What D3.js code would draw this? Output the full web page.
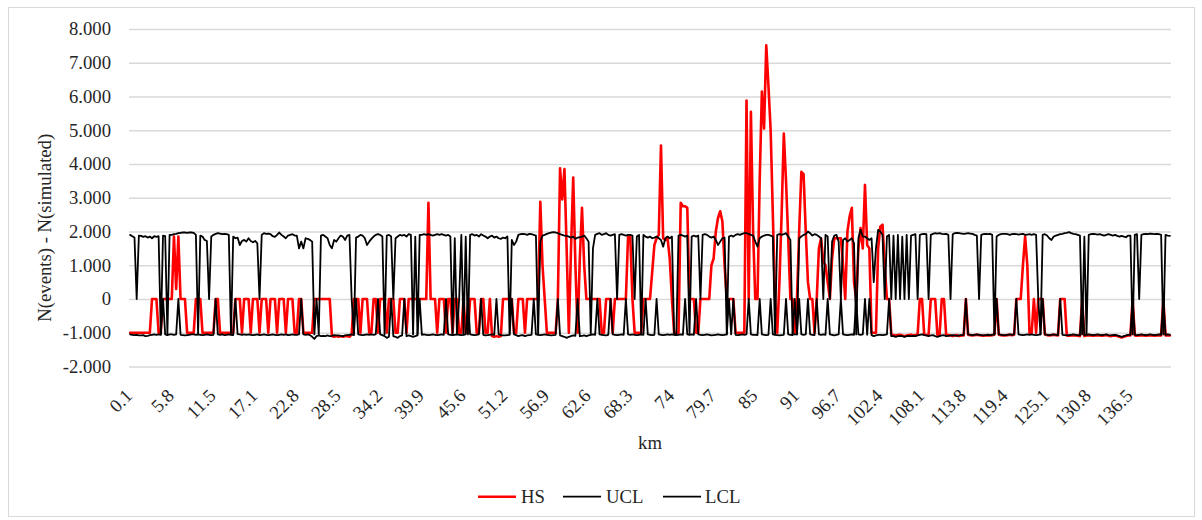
<!DOCTYPE html>
<html>
<head>
<meta charset="utf-8">
<script src="https://cdn.jsdelivr.net/npm/d3@7"></script>
<style>
  html, body { margin: 0; padding: 0; background: #fff; }
  svg { display: block; }
</style>
</head>
<body>
<svg id="chart" width="1202" height="520"></svg>
<script>
// ---------------- DATA ----------------
// x-axis tick labels (km), one shown every 57 categories
const tickLabels = ["0.1","5.8","11.5","17.1","22.8","28.5","34.2","39.9","45.6","51.2","56.9","62.6","68.3","74","79.7","85","91","96.7","102.4","108.1","113.8","119.4","125.1","130.8","136.5"];
const yTicks = [-2, -1, 0, 1, 2, 3, 4, 5, 6, 7, 8];
const yTickLabels = ["-2.000","-1.000","0","1.000","2.000","3.000","4.000","5.000","6.000","7.000","8.000"];
const nCategories = 1425;   // number of km categories on the axis
const sampleStep = 3;       // categories per stored sample
const tickEvery = 57;       // categories between labels

// HS series (sampled every 3 categories)
const hs = [
 -1,-1,-1,-1,-1,-1,-1,-1,-1,-1,0,0,0,-1,-1,0,0,0,0,
 0,1.85,0.3,1.85,0,0,0,-1,-1,-1,-1,0,0,0,-1,-1,-1,-1,-1,
 -1,0,0,-1,-1,-1,-1,-1,-1,-1,0,0,0,-1,0,0,0,-1,0,
 0,0,-1,0,0,0,-1,0,0,0,-1,0,0,0,-1,0,0,0,-1,
 -1,0,0,-1,-1,-1,-1,-1,0,0,0,0,0,0,0,0,-1.1,-1.12,-1.1,
 -1.12,-1.1,-1.12,-1.1,-1.1,-1.12,-1.05,0,0,0,-1,0,0,0,-1,-1,0,0,-1,
 0,0,0,-1,0,0,0,-1,-1,0,0,0,-1,0,0,0,0,0,0,
 0,0,0,2.85,0,0,0,-1,0,0,0,-1,0,0,-1,0,0,-1,-1,
 0,-1,-1,0,0,0,-1,-1,0,0,-1,-1,0,-1.1,-1.12,-1.1,-1.12,-1.1,0,
 0,0,0,0,-1,-1,0,0,0,-1,0,0,0,0,0,0,2.88,1.0,0,
 -1,-1,-1,-1,-1,0,3.87,2.95,3.85,1.5,-1,1.5,3.6,1.0,-1,1.2,2.7,1.0,0,
 0,0,0,0,0,0,-1,-1,0,0,0,-1,0,0,0,0,0,0,1.85,
 1.85,0,-1,-1,-1,-1,0,0,0,0,0.8,1.6,1.8,1.9,4.55,1.8,1.75,1.8,1.2,
 0,-1,-1,-1,2.85,2.75,2.75,2.7,0,0,0,-1,-1,0,0,0,0,0,1.0,
 1.2,2.0,2.4,2.6,2.3,1.0,0,0,0,0,-1,-1,-1,-1,-1,5.88,0,5.55,2.0,
 0,0,3.5,6.15,5.05,7.52,6.3,5.0,2.5,0,-1,0.5,2.5,4.9,3.5,1.8,0,0,-1,
 0,2.0,3.77,3.7,2.0,0.5,0,0,-1,0,1.5,1.8,1.1,1.0,0.5,0,1.2,1.8,1.8,
 1.8,1.8,1.0,0,2.0,2.45,2.7,0.5,0,1.5,2.1,1.5,3.38,1.6,1.5,-1,-1,-1,1.5,
 2.15,2.2,1.0,0,0,-1.05,-1.07,-1.08,-1.07,-1.06,-1.08,-1.1,-1.08,-1.07,-1.06,-1.08,-1.07,-1.06,0,
 0,-1.05,-1.07,-1.06,0,0,0,-1.06,-1.07,0,0,-1.06,-1.07,-1.08,-1.1,-1.08,-1.07,-1.1,-1.08,
 -1.08,0,-1.06,-1.07,-1.08,-1.07,-1.06,-1.07,-1.08,-1.09,-1.08,-1.07,-1.08,-1.07,-1.06,0,-1.06,-1.07,-1.08,
 -1.08,-1.07,-1.06,-1.07,-1.06,0,0,0,1.0,1.85,1.0,-1,-1,0,-1,0,0,0,-1.05,
 -1.07,-1.08,-1.07,-1.06,-1.07,-1.08,0,0,0,-1.08,-1.09,-1.08,-1.07,-1.08,-1.09,-1.1,0,-1.1,-1.08,
 -1.07,-1.08,-1.09,-1.08,-1.07,-1.08,-1.09,-1.08,-1.07,-1.09,-1.1,-1.09,-1.08,-1.1,-1.12,-1.14,-1.12,-1.1,-1.08,
 -1.08,0,-1.08,-1.09,-1.08,-1.07,-1.08,-1.09,-1.08,-1.07,-1.08,-1.09,-1.08,-1.07,-1.08,0,-1.08,-1.07,-1.08
];

// UCL series
const ucl = [
 1.90,1.86,1.82,0,1.88,1.87,1.84,1.86,1.82,1.85,1.80,1.86,1.84,1.86,-1.05,1.88,1.86,-1.05,1.90,
 1.9,1.92,1.93,1.95,1.96,1.97,1.97,1.96,1.97,1.97,1.96,1.9,-1.05,1.88,1.85,1.75,1.72,0,1.85,
 1.9,1.93,1.95,1.94,1.92,1.93,1.92,1.9,-1.05,1.85,1.8,1.82,1.6,1.72,1.75,1.7,1.8,1.72,1.68,
 1.72,1.65,0,1.9,1.95,1.93,1.94,1.92,1.86,1.84,1.9,1.97,1.9,1.85,1.8,1.88,1.9,1.92,1.88,
 1.88,1.5,1.7,1.5,1.8,1.78,1.75,1.7,-1.05,0,-1.05,1.88,1.9,1.85,1.8,1.6,1.5,1.75,1.7,
 1.8,1.88,1.85,1.75,1.88,1.9,0,-1.05,1.82,1.85,1.9,1.88,1.8,1.6,1.7,1.78,1.85,1.9,1.92,
 1.9,1.85,-1.05,1.88,1.9,1.85,0,1.8,1.85,1.9,1.88,1.9,1.85,1.92,1.9,-1.05,1.85,-1.05,1.9,
 1.9,1.92,1.9,1.92,1.9,1.88,1.9,1.92,1.9,1.92,1.9,1.88,1.9,1.85,-1.05,1.8,-1.05,0,1.9,
 -1.05,1.85,-1.05,1.9,1.92,1.88,1.9,1.85,1.92,1.88,1.85,1.8,1.85,1.88,1.82,1.85,1.8,1.78,1.82,
 1.8,1.85,-1.05,1.75,1.6,1.7,1.9,1.92,1.93,1.92,1.9,1.93,1.92,1.9,1.88,-1.05,1.7,1.88,1.9,
 1.93,1.95,1.97,1.98,1.97,1.95,1.92,1.9,1.88,1.87,1.85,1.82,1.85,1.78,1.82,1.83,1.85,1.88,1.8,
 1.7,-1.05,1.5,1.9,1.93,1.95,1.9,1.92,1.95,1.9,1.88,1.9,1.92,0,1.9,1.92,1.9,1.88,1.9,
 1.9,1.88,0,1.85,1.9,-1.05,1.9,1.85,1.82,1.85,1.8,1.82,1.85,1.8,1.75,1.55,1.8,1.85,1.8,
 1.85,-1.05,-1.05,1.88,1.9,1.88,1.85,1.88,-1.05,1.85,1.88,1.85,1.88,0,1.9,1.92,1.9,1.85,1.82,
 1.85,1.75,1.6,1.7,1.8,1.82,-1.05,1.85,1.88,1.85,1.9,1.92,1.9,1.93,1.95,1.95,1.93,1.9,1.88,
 1.7,1.55,1.8,1.85,1.88,1.9,1.9,1.88,1.85,-1.05,1.9,1.92,1.9,1.92,1.95,1.85,1.75,-1.05,-1.05,
 -1.05,1.8,1.85,1.9,1.92,2.0,1.95,1.88,1.92,1.9,1.85,1.8,0,1.9,1.85,0,1.7,1.88,1.9,
 1.7,0,1.75,1.8,1.7,1.75,1.8,1.65,-1.05,1.8,2.05,1.85,1.85,1.8,1.75,1.8,0.5,1.5,2.05,
 2.0,1.9,0,1.85,1.9,0,1.88,0,1.9,0,1.85,0,1.9,0,1.88,1.9,1.92,0,1.9,
 1.92,1.93,1.92,0,1.9,1.93,1.95,1.94,1.95,1.93,1.92,1.93,1.9,0,1.92,1.95,1.96,1.95,1.94,
 1.93,1.94,1.95,1.94,1.93,1.9,1.88,0,1.9,1.92,1.93,1.92,1.93,1.9,-1.05,1.85,1.9,1.92,1.93,
 1.93,1.92,1.9,1.92,1.93,1.92,1.91,1.92,1.93,1.9,1.91,1.92,1.9,1.92,1.9,0,-1.05,1.9,1.92,
 1.88,1.8,1.75,1.85,1.88,1.9,1.92,1.93,1.95,1.96,1.98,1.95,1.93,1.92,1.9,1.88,-1.05,1.85,-1.05,
 1.9,1.92,1.93,1.92,1.91,1.92,1.9,1.88,1.9,1.92,1.9,1.88,1.9,1.87,1.85,1.87,1.85,1.83,1.88,
 1.88,-1.05,1.9,1.92,0,1.9,1.92,1.93,1.92,1.94,1.93,1.92,1.93,1.92,1.9,-1.05,1.9,1.88,1.87
];

// LCL series
const lcl = [
 -1.05,-1.06,-1.07,-1.06,-1.08,-1.08,-1.07,-1.10,-1.09,-1.07,-1.06,-1.05,-1.06,-1.05,-1.06,0,-1.05,-1.07,-1.05,
 -1.05,-1.06,-1.05,0,-1.06,-1.07,-1.08,-1.07,-1.06,-1.05,-1.05,-1.06,-1.05,-1.06,-1.07,-1.06,-1.05,-1.06,-1.07,
 -1.06,0,-1.05,-1.06,-1.05,-1.07,-1.06,-1.05,-1.06,-1.07,0,-1.04,-1.05,-1.06,-1.05,-1.06,-1.05,-1.06,-1.07,
 -1.06,-1.05,-1.07,-1.06,-1.05,-1.06,-1.07,-1.06,-1.05,-1.06,-1.07,-1.06,-1.05,-1.06,-1.05,-1.07,-1.06,-1.05,-1.06,
 -1.06,-1.05,0,-1.05,-1.06,-1.05,-1.07,-1.12,-1.18,-1.1,-1.08,-1.1,-1.09,-1.1,-1.08,-1.1,-1.09,-1.07,-1.08,
 -1.08,-1.09,-1.1,-1.08,-1.07,-1.06,-1.05,-1.07,0,-1.05,-1.06,-1.07,-1.06,-1.05,-1.06,-1.05,-1.06,-1.05,0,
 -1.05,-1.07,-1.1,-1.15,-1.12,0,-1.1,-1.12,-1.15,-1.1,-1.08,0,-1.1,-1.08,-1.1,-1.12,-1.1,-1.08,0,
 -1.06,-1.05,-1.06,-1.07,-1.06,-1.05,-1.06,-1.07,-1.06,-1.05,-1.06,0,-1.05,-1.06,-1.07,-1.06,-1.05,-1.06,-1.07,
 -1.06,-1.05,0,-1.05,-1.06,-1.07,-1.06,-1.05,0,-1.06,-1.08,-1.07,-1.06,-1.05,-1.06,0,-1.05,-1.07,-1.08,
 -1.08,-1.07,-1.06,0,-1.05,-1.07,-1.1,-1.08,-1.07,-1.1,-1.08,-1.07,-1.06,0,-1.05,-1.06,-1.07,-1.06,-1.05,
 -1.06,-1.07,-1.08,-1.07,-1.06,0,-1.08,-1.1,-1.12,-1.15,-1.12,-1.1,-1.08,-1.09,0,-1.1,-1.09,-1.08,-1.1,
 -1.08,-1.06,-1.05,-1.06,0,-1.05,-1.06,-1.07,-1.08,-1.06,0,-1.05,-1.06,-1.07,-1.06,-1.05,-1.06,0,-1.05,
 -1.06,-1.05,-1.06,-1.07,-1.06,-1.05,-1.06,0,-1.05,-1.06,-1.07,-1.06,0,-1.05,-1.06,-1.07,-1.06,-1.05,-1.06,
 -1.05,-1.06,-1.07,-1.06,-1.05,-1.06,0,-1.05,-1.06,-1.05,-1.06,0,-1.05,-1.06,-1.07,-1.06,-1.05,-1.06,-1.08,
 -1.07,-1.06,-1.05,-1.06,-1.07,-1.06,-1.05,0,-1.05,0,-1.06,-1.07,-1.06,-1.05,-1.06,-1.05,0,-1.05,-1.06,
 -1.06,-1.07,0,-1.05,-1.06,-1.07,-1.06,0,-1.05,-1.06,-1.07,-1.08,-1.07,-1.06,0,-1.05,-1.06,-1.07,0,
 -1.05,0,-1.05,-1.06,-1.05,0,-1.05,-1.06,-1.07,0,-1.05,-1.06,-1.05,-1.06,0,-1.05,-1.06,-1.08,-1.06,
 -1.05,0,-1.05,-1.06,-1.07,-1.06,-1.05,-1.06,0,-1.05,-1.06,-1.05,0,-1.06,0,-1.07,-1.1,-1.08,-1.06,
 -1.06,-1.07,-1.06,-1.05,0,-1.1,-1.1,-1.12,-1.1,-1.09,-1.1,-1.12,-1.1,-1.09,-1.1,-1.09,-1.1,-1.08,-1.06,
 -1.05,-1.07,-1.08,-1.1,-1.08,-1.07,-1.1,-1.12,-1.1,-1.08,-1.07,-1.1,-1.09,-1.08,-1.07,-1.08,-1.09,-1.08,-1.07,
 -1.06,0,-1.05,-1.06,-1.07,-1.06,-1.05,-1.06,-1.07,-1.08,-1.07,-1.06,-1.07,-1.06,-1.05,0,-1.05,-1.06,-1.07,
 -1.07,-1.06,-1.05,-1.06,-1.05,0,-1.05,-1.06,-1.07,-1.06,-1.05,-1.06,-1.05,-1.06,-1.07,-1.06,-1.05,0,-1.05,
 -1.06,-1.07,-1.06,-1.05,-1.06,-1.07,0,-1.06,-1.07,-1.08,-1.07,-1.06,-1.05,-1.06,-1.07,-1.08,0,-1.07,-1.06,
 -1.05,-1.06,-1.07,-1.06,-1.05,-1.06,-1.07,-1.06,-1.05,-1.07,-1.08,-1.07,-1.06,-1.08,-1.1,-1.12,-1.1,-1.08,-1.06,
 -1.06,0,-1.06,-1.07,-1.06,-1.05,-1.06,-1.07,-1.06,-1.05,-1.06,-1.07,-1.06,-1.05,-1.06,0,-1.06,-1.05,-1.06
];

const seriesNames = ["HS", "UCL", "LCL"];
const seriesColors = ["#ff0000", "#000000", "#000000"];
const seriesWidths = [2.6, 1.8, 1.8];

// ---------------- CHART ----------------
const SERIF = '"Liberation Serif", serif';
const FONT = "18.7px";
const TEXT_COLOR = "#262626";
const svg = d3.select("#chart");
const plot = { left: 129, right: 1171, top: 29, bottom: 366.5 };

function styleText(sel) {
  return sel.style("font-family", SERIF).style("font-size", FONT).style("fill", TEXT_COLOR);
}

svg.append("rect").attr("x", 0).attr("y", 0).attr("width", 1202).attr("height", 520).attr("fill", "#fff");
svg.append("rect").attr("x", 8.5).attr("y", 7.5).attr("width", 1186).attr("height", 509)
  .attr("fill", "none").attr("stroke", "#d9d9d9").attr("stroke-width", 1);

const x = d3.scaleLinear().domain([0, nCategories]).range([plot.left, plot.right]);
const y = d3.scaleLinear().domain([-2, 8]).range([plot.bottom, plot.top]);

// Y axis with gridlines
const yAxis = d3.axisLeft(y)
  .tickValues(yTicks)
  .tickSize(-(plot.right - plot.left))
  .tickPadding(18)
  .tickFormat((d, i) => yTickLabels[i]);
const gy = svg.append("g").attr("transform", `translate(${plot.left},0)`).call(yAxis);
gy.attr("font-family", null).attr("font-size", null);
gy.select(".domain").remove();
gy.selectAll(".tick line").attr("stroke", "#d9d9d9").attr("stroke-width", 1.3);
styleText(gy.selectAll(".tick text"));

// X axis (category ticks with rotated labels)
const tickPositions = tickLabels.map((_, k) => k * tickEvery + 0.5);
const xAxis = d3.axisBottom(x)
  .tickValues(tickPositions)
  .tickSize(0)
  .tickFormat((d, i) => tickLabels[i]);
const gx = svg.append("g").attr("transform", `translate(0,${plot.bottom})`).call(xAxis);
gx.attr("font-family", null).attr("font-size", null);
gx.select(".domain").remove();
styleText(gx.selectAll(".tick text"))
  .attr("text-anchor", "end")
  .attr("x", 0).attr("y", 0).attr("dy", 0)
  .attr("transform", "translate(3.6,30.5) rotate(-45)");

// Lines
const lineGen = d3.line()
  .x((d, i) => x(i * sampleStep + sampleStep / 2))
  .y(d => y(d));

const allSeries = [hs, ucl, lcl];
allSeries.forEach((s, k) => {
  svg.append("path")
    .datum(s)
    .attr("d", lineGen)
    .attr("fill", "none")
    .attr("stroke", seriesColors[k])
    .attr("stroke-width", seriesWidths[k])
    .attr("stroke-linejoin", "round")
    .attr("stroke-linecap", "round");
});

// Axis titles
styleText(svg.append("text"))
  .attr("x", (plot.left + plot.right) / 2).attr("y", 449)
  .attr("text-anchor", "middle")
  .text("km");

styleText(svg.append("text"))
  .attr("transform", `translate(50.5,${(plot.top + plot.bottom) / 2 + 30}) rotate(-90)`)
  .attr("text-anchor", "middle")
  .text("N(events) - N(simulated)");

// Legend
const legendItems = [
  { lx: 478, tx: 521 },
  { lx: 563, tx: 606 },
  { lx: 663, tx: 705 }
];
const lg = svg.append("g");
seriesNames.forEach((name, k) => {
  lg.append("line")
    .attr("x1", legendItems[k].lx).attr("x2", legendItems[k].lx + 38)
    .attr("y1", 496.7).attr("y2", 496.7)
    .attr("stroke", seriesColors[k]).attr("stroke-width", seriesWidths[k]);
  styleText(lg.append("text"))
    .attr("x", legendItems[k].tx).attr("y", 503)
    .text(name);
});
</script>
</body>
</html>
